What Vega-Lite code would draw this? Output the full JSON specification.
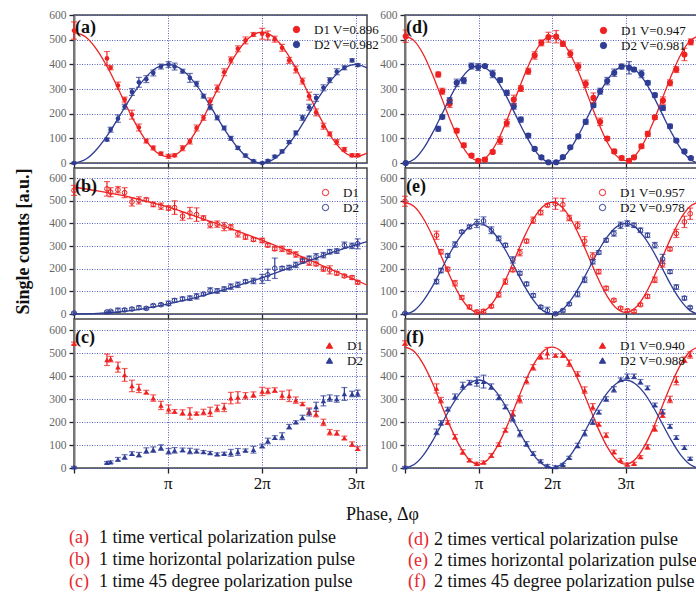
{
"$schema":"https://vega.github.io/schema/vega-lite/v6.json",
"background":"white",
"padding":{"left":13,"top":8,"right":0,"bottom":0},
"config":{
 "font":"Liberation Serif, Times New Roman, DejaVu Serif, serif",
 "view":{"stroke":"#444","strokeWidth":1.5},
 "axis":{"labelFont":"Liberation Serif, Times New Roman, DejaVu Serif, serif","titleFont":"Liberation Serif, Times New Roman, DejaVu Serif, serif","gridColor":"#3848b8","gridDash":[1,1.5],"gridWidth":1,"gridOpacity":0.85,"tickColor":"#222","tickWidth":1.3},
 "axisX":{"domain":false,"tickSize":5},
 "axisY":{"domainColor":"#777","domainWidth":2,"tickSize":5,"labelFontSize":11.5,"labelColor":"#666","labelPadding":3},
 "legend":{"orient":"none","labelFont":"Liberation Serif, Times New Roman, DejaVu Serif, serif","labelFontSize":13,"labelColor":"#111","labelOffset":11,"rowPadding":1,"padding":0,"symbolSize":40,"symbolStrokeWidth":1},
 "title":{"anchor":"start","orient":"top","frame":"group","offset":-28,"dx":1,"fontSize":18,"font":"Liberation Serif, Times New Roman, DejaVu Serif, serif","fontWeight":"bold","color":"#111"}
},
"datasets":{
"pts":[
{"p":"a","s":"D1","x":0,"y":537,"e":35},{"p":"a","s":"D1","x":0.351,"y":424,"e":28},{"p":"a","s":"D1","x":0.39,"y":386,"e":8},{"p":"a","s":"D1","x":0.468,"y":314,"e":14},{"p":"a","s":"D1","x":0.539,"y":257,"e":10},{"p":"a","s":"D1","x":0.617,"y":196,"e":18},{"p":"a","s":"D1","x":0.691,"y":144,"e":14},{"p":"a","s":"D1","x":0.77,"y":89,"e":8},{"p":"a","s":"D1","x":0.844,"y":61,"e":8},{"p":"a","s":"D1","x":0.926,"y":38,"e":6},{"p":"a","s":"D1","x":1.007,"y":27,"e":8},{"p":"a","s":"D1","x":1.071,"y":31,"e":6},{"p":"a","s":"D1","x":1.156,"y":60,"e":10},{"p":"a","s":"D1","x":1.234,"y":87,"e":10},{"p":"a","s":"D1","x":1.305,"y":142,"e":12},{"p":"a","s":"D1","x":1.379,"y":183,"e":10},{"p":"a","s":"D1","x":1.45,"y":250,"e":14},{"p":"a","s":"D1","x":1.525,"y":302,"e":14},{"p":"a","s":"D1","x":1.599,"y":368,"e":14},{"p":"a","s":"D1","x":1.67,"y":418,"e":12},{"p":"a","s":"D1","x":1.745,"y":463,"e":12},{"p":"a","s":"D1","x":1.826,"y":497,"e":14},{"p":"a","s":"D1","x":1.911,"y":521,"e":8},{"p":"a","s":"D1","x":2.004,"y":524,"e":22},{"p":"a","s":"D1","x":2.064,"y":517,"e":18},{"p":"a","s":"D1","x":2.138,"y":502,"e":12},{"p":"a","s":"D1","x":2.216,"y":467,"e":14},{"p":"a","s":"D1","x":2.291,"y":416,"e":12},{"p":"a","s":"D1","x":2.362,"y":379,"e":14},{"p":"a","s":"D1","x":2.433,"y":332,"e":12},{"p":"a","s":"D1","x":2.504,"y":271,"e":16},{"p":"a","s":"D1","x":2.578,"y":205,"e":14},{"p":"a","s":"D1","x":2.656,"y":149,"e":12},{"p":"a","s":"D1","x":2.723,"y":118,"e":8},{"p":"a","s":"D1","x":2.798,"y":85,"e":10},{"p":"a","s":"D1","x":2.879,"y":55,"e":8},{"p":"a","s":"D1","x":2.961,"y":31,"e":6},{"p":"a","s":"D1","x":3.021,"y":31,"e":6},
{"p":"a","s":"D2","x":0,"y":0,"e":3},{"p":"a","s":"D2","x":0.351,"y":95,"e":6},{"p":"a","s":"D2","x":0.39,"y":135,"e":10},{"p":"a","s":"D2","x":0.468,"y":180,"e":15},{"p":"a","s":"D2","x":0.539,"y":228,"e":10},{"p":"a","s":"D2","x":0.617,"y":288,"e":14},{"p":"a","s":"D2","x":0.691,"y":327,"e":20},{"p":"a","s":"D2","x":0.77,"y":340,"e":14},{"p":"a","s":"D2","x":0.844,"y":365,"e":12},{"p":"a","s":"D2","x":0.926,"y":391,"e":10},{"p":"a","s":"D2","x":1.007,"y":399,"e":12},{"p":"a","s":"D2","x":1.071,"y":391,"e":14},{"p":"a","s":"D2","x":1.156,"y":372,"e":8},{"p":"a","s":"D2","x":1.234,"y":345,"e":18},{"p":"a","s":"D2","x":1.305,"y":321,"e":10},{"p":"a","s":"D2","x":1.379,"y":271,"e":8},{"p":"a","s":"D2","x":1.45,"y":226,"e":10},{"p":"a","s":"D2","x":1.525,"y":183,"e":8},{"p":"a","s":"D2","x":1.599,"y":142,"e":8},{"p":"a","s":"D2","x":1.67,"y":100,"e":8},{"p":"a","s":"D2","x":1.745,"y":61,"e":6},{"p":"a","s":"D2","x":1.826,"y":30,"e":6},{"p":"a","s":"D2","x":1.911,"y":8,"e":4},{"p":"a","s":"D2","x":2.004,"y":0,"e":3},{"p":"a","s":"D2","x":2.064,"y":9,"e":4},{"p":"a","s":"D2","x":2.138,"y":26,"e":5},{"p":"a","s":"D2","x":2.216,"y":47,"e":6},{"p":"a","s":"D2","x":2.291,"y":85,"e":6},{"p":"a","s":"D2","x":2.362,"y":122,"e":8},{"p":"a","s":"D2","x":2.433,"y":183,"e":10},{"p":"a","s":"D2","x":2.504,"y":226,"e":12},{"p":"a","s":"D2","x":2.578,"y":264,"e":14},{"p":"a","s":"D2","x":2.656,"y":305,"e":12},{"p":"a","s":"D2","x":2.723,"y":336,"e":10},{"p":"a","s":"D2","x":2.798,"y":370,"e":12},{"p":"a","s":"D2","x":2.879,"y":386,"e":8},{"p":"a","s":"D2","x":2.961,"y":416,"e":6},{"p":"a","s":"D2","x":3.021,"y":397,"e":6},
{"p":"b","s":"D1","x":0,"y":546,"e":22},{"p":"b","s":"D1","x":0.351,"y":553,"e":32},{"p":"b","s":"D1","x":0.39,"y":538,"e":20},{"p":"b","s":"D1","x":0.468,"y":549,"e":14},{"p":"b","s":"D1","x":0.539,"y":536,"e":22},{"p":"b","s":"D1","x":0.617,"y":495,"e":18},{"p":"b","s":"D1","x":0.691,"y":502,"e":16},{"p":"b","s":"D1","x":0.77,"y":505,"e":8},{"p":"b","s":"D1","x":0.844,"y":484,"e":10},{"p":"b","s":"D1","x":0.926,"y":476,"e":14},{"p":"b","s":"D1","x":1.007,"y":468,"e":10},{"p":"b","s":"D1","x":1.071,"y":470,"e":30},{"p":"b","s":"D1","x":1.156,"y":432,"e":18},{"p":"b","s":"D1","x":1.234,"y":446,"e":25},{"p":"b","s":"D1","x":1.305,"y":439,"e":30},{"p":"b","s":"D1","x":1.379,"y":424,"e":10},{"p":"b","s":"D1","x":1.45,"y":395,"e":14},{"p":"b","s":"D1","x":1.525,"y":397,"e":14},{"p":"b","s":"D1","x":1.599,"y":386,"e":18},{"p":"b","s":"D1","x":1.67,"y":383,"e":12},{"p":"b","s":"D1","x":1.745,"y":354,"e":14},{"p":"b","s":"D1","x":1.826,"y":340,"e":10},{"p":"b","s":"D1","x":1.911,"y":329,"e":8},{"p":"b","s":"D1","x":2.004,"y":325,"e":10},{"p":"b","s":"D1","x":2.064,"y":304,"e":8},{"p":"b","s":"D1","x":2.138,"y":288,"e":8},{"p":"b","s":"D1","x":2.216,"y":288,"e":12},{"p":"b","s":"D1","x":2.291,"y":275,"e":10},{"p":"b","s":"D1","x":2.362,"y":263,"e":12},{"p":"b","s":"D1","x":2.433,"y":241,"e":10},{"p":"b","s":"D1","x":2.504,"y":227,"e":12},{"p":"b","s":"D1","x":2.578,"y":221,"e":8},{"p":"b","s":"D1","x":2.656,"y":199,"e":10},{"p":"b","s":"D1","x":2.723,"y":195,"e":18},{"p":"b","s":"D1","x":2.798,"y":180,"e":8},{"p":"b","s":"D1","x":2.879,"y":168,"e":6},{"p":"b","s":"D1","x":2.961,"y":161,"e":8},{"p":"b","s":"D1","x":3.021,"y":140,"e":8},
{"p":"b","s":"D2","x":0,"y":4,"e":4},{"p":"b","s":"D2","x":0.351,"y":9,"e":4},{"p":"b","s":"D2","x":0.39,"y":12,"e":4},{"p":"b","s":"D2","x":0.468,"y":16,"e":10},{"p":"b","s":"D2","x":0.539,"y":18,"e":6},{"p":"b","s":"D2","x":0.617,"y":22,"e":6},{"p":"b","s":"D2","x":0.691,"y":28,"e":8},{"p":"b","s":"D2","x":0.77,"y":25,"e":6},{"p":"b","s":"D2","x":0.844,"y":37,"e":6},{"p":"b","s":"D2","x":0.926,"y":41,"e":6},{"p":"b","s":"D2","x":1.007,"y":47,"e":10},{"p":"b","s":"D2","x":1.071,"y":60,"e":8},{"p":"b","s":"D2","x":1.156,"y":67,"e":8},{"p":"b","s":"D2","x":1.234,"y":70,"e":10},{"p":"b","s":"D2","x":1.305,"y":78,"e":12},{"p":"b","s":"D2","x":1.379,"y":88,"e":6},{"p":"b","s":"D2","x":1.45,"y":104,"e":12},{"p":"b","s":"D2","x":1.525,"y":102,"e":10},{"p":"b","s":"D2","x":1.599,"y":110,"e":10},{"p":"b","s":"D2","x":1.67,"y":121,"e":12},{"p":"b","s":"D2","x":1.745,"y":129,"e":12},{"p":"b","s":"D2","x":1.826,"y":143,"e":8},{"p":"b","s":"D2","x":1.911,"y":146,"e":12},{"p":"b","s":"D2","x":2.004,"y":155,"e":20},{"p":"b","s":"D2","x":2.064,"y":173,"e":25},{"p":"b","s":"D2","x":2.138,"y":202,"e":45},{"p":"b","s":"D2","x":2.216,"y":202,"e":8},{"p":"b","s":"D2","x":2.291,"y":205,"e":10},{"p":"b","s":"D2","x":2.362,"y":217,"e":12},{"p":"b","s":"D2","x":2.433,"y":234,"e":10},{"p":"b","s":"D2","x":2.504,"y":246,"e":10},{"p":"b","s":"D2","x":2.578,"y":253,"e":14},{"p":"b","s":"D2","x":2.656,"y":260,"e":12},{"p":"b","s":"D2","x":2.723,"y":275,"e":10},{"p":"b","s":"D2","x":2.798,"y":278,"e":10},{"p":"b","s":"D2","x":2.879,"y":304,"e":14},{"p":"b","s":"D2","x":2.961,"y":301,"e":12},{"p":"b","s":"D2","x":3.021,"y":310,"e":22},
{"p":"c","s":"D1","x":0,"y":543,"e":6},{"p":"c","s":"D1","x":0.351,"y":472,"e":25},{"p":"c","s":"D1","x":0.39,"y":475,"e":12},{"p":"c","s":"D1","x":0.468,"y":440,"e":22},{"p":"c","s":"D1","x":0.539,"y":406,"e":28},{"p":"c","s":"D1","x":0.617,"y":358,"e":25},{"p":"c","s":"D1","x":0.691,"y":347,"e":18},{"p":"c","s":"D1","x":0.77,"y":331,"e":8},{"p":"c","s":"D1","x":0.844,"y":305,"e":14},{"p":"c","s":"D1","x":0.926,"y":273,"e":18},{"p":"c","s":"D1","x":1.007,"y":257,"e":18},{"p":"c","s":"D1","x":1.071,"y":247,"e":8},{"p":"c","s":"D1","x":1.156,"y":242,"e":12},{"p":"c","s":"D1","x":1.234,"y":238,"e":25},{"p":"c","s":"D1","x":1.305,"y":238,"e":6},{"p":"c","s":"D1","x":1.379,"y":244,"e":12},{"p":"c","s":"D1","x":1.45,"y":245,"e":20},{"p":"c","s":"D1","x":1.525,"y":260,"e":14},{"p":"c","s":"D1","x":1.599,"y":264,"e":18},{"p":"c","s":"D1","x":1.67,"y":305,"e":25},{"p":"c","s":"D1","x":1.745,"y":308,"e":25},{"p":"c","s":"D1","x":1.826,"y":315,"e":14},{"p":"c","s":"D1","x":1.911,"y":320,"e":12},{"p":"c","s":"D1","x":2.004,"y":334,"e":18},{"p":"c","s":"D1","x":2.064,"y":336,"e":12},{"p":"c","s":"D1","x":2.138,"y":340,"e":10},{"p":"c","s":"D1","x":2.216,"y":317,"e":18},{"p":"c","s":"D1","x":2.291,"y":315,"e":25},{"p":"c","s":"D1","x":2.362,"y":296,"e":14},{"p":"c","s":"D1","x":2.433,"y":280,"e":6},{"p":"c","s":"D1","x":2.504,"y":248,"e":14},{"p":"c","s":"D1","x":2.578,"y":235,"e":12},{"p":"c","s":"D1","x":2.656,"y":199,"e":14},{"p":"c","s":"D1","x":2.723,"y":156,"e":12},{"p":"c","s":"D1","x":2.798,"y":153,"e":10},{"p":"c","s":"D1","x":2.879,"y":131,"e":8},{"p":"c","s":"D1","x":2.961,"y":104,"e":10},{"p":"c","s":"D1","x":3.021,"y":85,"e":8},
{"p":"c","s":"D2","x":0,"y":4,"e":3},{"p":"c","s":"D2","x":0.351,"y":23,"e":5},{"p":"c","s":"D2","x":0.39,"y":26,"e":5},{"p":"c","s":"D2","x":0.468,"y":38,"e":8},{"p":"c","s":"D2","x":0.539,"y":48,"e":10},{"p":"c","s":"D2","x":0.617,"y":63,"e":8},{"p":"c","s":"D2","x":0.691,"y":58,"e":10},{"p":"c","s":"D2","x":0.77,"y":76,"e":12},{"p":"c","s":"D2","x":0.844,"y":80,"e":12},{"p":"c","s":"D2","x":0.926,"y":89,"e":12},{"p":"c","s":"D2","x":1.007,"y":73,"e":12},{"p":"c","s":"D2","x":1.071,"y":77,"e":12},{"p":"c","s":"D2","x":1.156,"y":79,"e":8},{"p":"c","s":"D2","x":1.234,"y":74,"e":12},{"p":"c","s":"D2","x":1.305,"y":74,"e":8},{"p":"c","s":"D2","x":1.379,"y":70,"e":6},{"p":"c","s":"D2","x":1.45,"y":66,"e":6},{"p":"c","s":"D2","x":1.525,"y":60,"e":6},{"p":"c","s":"D2","x":1.599,"y":63,"e":6},{"p":"c","s":"D2","x":1.67,"y":66,"e":15},{"p":"c","s":"D2","x":1.745,"y":70,"e":15},{"p":"c","s":"D2","x":1.826,"y":77,"e":6},{"p":"c","s":"D2","x":1.911,"y":80,"e":15},{"p":"c","s":"D2","x":2.004,"y":96,"e":8},{"p":"c","s":"D2","x":2.064,"y":118,"e":12},{"p":"c","s":"D2","x":2.138,"y":133,"e":8},{"p":"c","s":"D2","x":2.216,"y":139,"e":15},{"p":"c","s":"D2","x":2.291,"y":180,"e":10},{"p":"c","s":"D2","x":2.362,"y":200,"e":6},{"p":"c","s":"D2","x":2.433,"y":220,"e":10},{"p":"c","s":"D2","x":2.504,"y":242,"e":15},{"p":"c","s":"D2","x":2.578,"y":267,"e":20},{"p":"c","s":"D2","x":2.656,"y":293,"e":22},{"p":"c","s":"D2","x":2.723,"y":305,"e":14},{"p":"c","s":"D2","x":2.798,"y":301,"e":14},{"p":"c","s":"D2","x":2.879,"y":323,"e":28},{"p":"c","s":"D2","x":2.961,"y":323,"e":12},{"p":"c","s":"D2","x":3.021,"y":326,"e":14},
{"p":"d","s":"D1","x":0.01,"y":514,"e":25},{"p":"d","s":"D1","x":0.452,"y":359,"e":10},{"p":"d","s":"D1","x":0.507,"y":291,"e":12},{"p":"d","s":"D1","x":0.607,"y":240,"e":15},{"p":"d","s":"D1","x":0.703,"y":131,"e":8},{"p":"d","s":"D1","x":0.799,"y":72,"e":8},{"p":"d","s":"D1","x":0.904,"y":30,"e":8},{"p":"d","s":"D1","x":0.995,"y":9,"e":6},{"p":"d","s":"D1","x":1.087,"y":14,"e":8},{"p":"d","s":"D1","x":1.192,"y":45,"e":6},{"p":"d","s":"D1","x":1.292,"y":91,"e":15},{"p":"d","s":"D1","x":1.384,"y":162,"e":15},{"p":"d","s":"D1","x":1.479,"y":257,"e":18},{"p":"d","s":"D1","x":1.575,"y":302,"e":12},{"p":"d","s":"D1","x":1.676,"y":372,"e":12},{"p":"d","s":"D1","x":1.763,"y":436,"e":15},{"p":"d","s":"D1","x":1.854,"y":487,"e":12},{"p":"d","s":"D1","x":1.95,"y":510,"e":20},{"p":"d","s":"D1","x":2.055,"y":512,"e":25},{"p":"d","s":"D1","x":2.146,"y":483,"e":10},{"p":"d","s":"D1","x":2.247,"y":443,"e":15},{"p":"d","s":"D1","x":2.356,"y":391,"e":15},{"p":"d","s":"D1","x":2.457,"y":321,"e":15},{"p":"d","s":"D1","x":2.562,"y":264,"e":20},{"p":"d","s":"D1","x":2.653,"y":167,"e":15},{"p":"d","s":"D1","x":2.749,"y":99,"e":8},{"p":"d","s":"D1","x":2.845,"y":47,"e":8},{"p":"d","s":"D1","x":2.945,"y":20,"e":8},{"p":"d","s":"D1","x":3.046,"y":9,"e":6},{"p":"d","s":"D1","x":3.114,"y":23,"e":6},{"p":"d","s":"D1","x":3.215,"y":68,"e":8},{"p":"d","s":"D1","x":3.301,"y":118,"e":10},{"p":"d","s":"D1","x":3.397,"y":185,"e":8},{"p":"d","s":"D1","x":3.507,"y":253,"e":15},{"p":"d","s":"D1","x":3.603,"y":325,"e":12},{"p":"d","s":"D1","x":3.689,"y":379,"e":12},{"p":"d","s":"D1","x":3.799,"y":440,"e":25},{"p":"d","s":"D1","x":3.886,"y":491,"e":12},
{"p":"d","s":"D2","x":0.01,"y":0,"e":3},{"p":"d","s":"D2","x":0.452,"y":139,"e":10},{"p":"d","s":"D2","x":0.507,"y":187,"e":8},{"p":"d","s":"D2","x":0.607,"y":253,"e":12},{"p":"d","s":"D2","x":0.703,"y":325,"e":15},{"p":"d","s":"D2","x":0.799,"y":334,"e":12},{"p":"d","s":"D2","x":0.904,"y":393,"e":12},{"p":"d","s":"D2","x":0.995,"y":389,"e":14},{"p":"d","s":"D2","x":1.087,"y":393,"e":6},{"p":"d","s":"D2","x":1.192,"y":361,"e":15},{"p":"d","s":"D2","x":1.292,"y":336,"e":8},{"p":"d","s":"D2","x":1.384,"y":284,"e":10},{"p":"d","s":"D2","x":1.479,"y":230,"e":12},{"p":"d","s":"D2","x":1.575,"y":176,"e":10},{"p":"d","s":"D2","x":1.676,"y":111,"e":8},{"p":"d","s":"D2","x":1.763,"y":57,"e":6},{"p":"d","s":"D2","x":1.854,"y":23,"e":6},{"p":"d","s":"D2","x":1.95,"y":3,"e":4},{"p":"d","s":"D2","x":2.055,"y":3,"e":4},{"p":"d","s":"D2","x":2.146,"y":24,"e":5},{"p":"d","s":"D2","x":2.247,"y":64,"e":6},{"p":"d","s":"D2","x":2.356,"y":108,"e":8},{"p":"d","s":"D2","x":2.457,"y":167,"e":10},{"p":"d","s":"D2","x":2.562,"y":234,"e":8},{"p":"d","s":"D2","x":2.653,"y":291,"e":12},{"p":"d","s":"D2","x":2.749,"y":332,"e":15},{"p":"d","s":"D2","x":2.845,"y":366,"e":15},{"p":"d","s":"D2","x":2.945,"y":391,"e":10},{"p":"d","s":"D2","x":3.046,"y":386,"e":25},{"p":"d","s":"D2","x":3.114,"y":379,"e":8},{"p":"d","s":"D2","x":3.215,"y":361,"e":15},{"p":"d","s":"D2","x":3.301,"y":325,"e":8},{"p":"d","s":"D2","x":3.397,"y":275,"e":8},{"p":"d","s":"D2","x":3.507,"y":223,"e":10},{"p":"d","s":"D2","x":3.603,"y":149,"e":8},{"p":"d","s":"D2","x":3.689,"y":91,"e":6},{"p":"d","s":"D2","x":3.799,"y":47,"e":6},{"p":"d","s":"D2","x":3.886,"y":20,"e":5},
{"p":"e","s":"D1","x":0,"y":498,"e":22},{"p":"e","s":"D1","x":0.429,"y":348,"e":18},{"p":"e","s":"D1","x":0.489,"y":275,"e":10},{"p":"e","s":"D1","x":0.58,"y":198,"e":8},{"p":"e","s":"D1","x":0.68,"y":136,"e":12},{"p":"e","s":"D1","x":0.772,"y":73,"e":8},{"p":"e","s":"D1","x":0.877,"y":31,"e":8},{"p":"e","s":"D1","x":0.977,"y":9,"e":8},{"p":"e","s":"D1","x":1.068,"y":12,"e":8},{"p":"e","s":"D1","x":1.174,"y":34,"e":6},{"p":"e","s":"D1","x":1.274,"y":85,"e":10},{"p":"e","s":"D1","x":1.365,"y":143,"e":12},{"p":"e","s":"D1","x":1.466,"y":195,"e":8},{"p":"e","s":"D1","x":1.562,"y":271,"e":14},{"p":"e","s":"D1","x":1.653,"y":322,"e":8},{"p":"e","s":"D1","x":1.744,"y":414,"e":14},{"p":"e","s":"D1","x":1.845,"y":448,"e":10},{"p":"e","s":"D1","x":1.936,"y":480,"e":6},{"p":"e","s":"D1","x":2.046,"y":487,"e":25},{"p":"e","s":"D1","x":2.146,"y":483,"e":28},{"p":"e","s":"D1","x":2.233,"y":424,"e":12},{"p":"e","s":"D1","x":2.347,"y":392,"e":15},{"p":"e","s":"D1","x":2.443,"y":322,"e":20},{"p":"e","s":"D1","x":2.553,"y":256,"e":15},{"p":"e","s":"D1","x":2.635,"y":187,"e":10},{"p":"e","s":"D1","x":2.735,"y":114,"e":8},{"p":"e","s":"D1","x":2.84,"y":61,"e":6},{"p":"e","s":"D1","x":2.932,"y":26,"e":6},{"p":"e","s":"D1","x":3.023,"y":15,"e":6},{"p":"e","s":"D1","x":3.114,"y":12,"e":6},{"p":"e","s":"D1","x":3.201,"y":41,"e":6},{"p":"e","s":"D1","x":3.297,"y":78,"e":8},{"p":"e","s":"D1","x":3.397,"y":151,"e":12},{"p":"e","s":"D1","x":3.502,"y":221,"e":14},{"p":"e","s":"D1","x":3.603,"y":287,"e":8},{"p":"e","s":"D1","x":3.689,"y":356,"e":18},{"p":"e","s":"D1","x":3.799,"y":407,"e":25},{"p":"e","s":"D1","x":3.877,"y":443,"e":25},
{"p":"e","s":"D2","x":0,"y":3,"e":3},{"p":"e","s":"D2","x":0.429,"y":143,"e":10},{"p":"e","s":"D2","x":0.489,"y":192,"e":10},{"p":"e","s":"D2","x":0.58,"y":258,"e":8},{"p":"e","s":"D2","x":0.68,"y":307,"e":12},{"p":"e","s":"D2","x":0.772,"y":363,"e":6},{"p":"e","s":"D2","x":0.877,"y":385,"e":8},{"p":"e","s":"D2","x":0.977,"y":400,"e":18},{"p":"e","s":"D2","x":1.068,"y":411,"e":18},{"p":"e","s":"D2","x":1.174,"y":370,"e":15},{"p":"e","s":"D2","x":1.274,"y":334,"e":10},{"p":"e","s":"D2","x":1.365,"y":304,"e":8},{"p":"e","s":"D2","x":1.466,"y":239,"e":14},{"p":"e","s":"D2","x":1.562,"y":180,"e":8},{"p":"e","s":"D2","x":1.653,"y":133,"e":8},{"p":"e","s":"D2","x":1.744,"y":82,"e":8},{"p":"e","s":"D2","x":1.845,"y":31,"e":6},{"p":"e","s":"D2","x":1.936,"y":15,"e":15},{"p":"e","s":"D2","x":2.046,"y":1,"e":6},{"p":"e","s":"D2","x":2.146,"y":15,"e":6},{"p":"e","s":"D2","x":2.233,"y":44,"e":6},{"p":"e","s":"D2","x":2.347,"y":88,"e":12},{"p":"e","s":"D2","x":2.443,"y":151,"e":12},{"p":"e","s":"D2","x":2.553,"y":231,"e":10},{"p":"e","s":"D2","x":2.635,"y":272,"e":8},{"p":"e","s":"D2","x":2.735,"y":326,"e":8},{"p":"e","s":"D2","x":2.84,"y":356,"e":12},{"p":"e","s":"D2","x":2.932,"y":392,"e":14},{"p":"e","s":"D2","x":3.023,"y":400,"e":12},{"p":"e","s":"D2","x":3.114,"y":392,"e":10},{"p":"e","s":"D2","x":3.201,"y":370,"e":10},{"p":"e","s":"D2","x":3.297,"y":348,"e":10},{"p":"e","s":"D2","x":3.397,"y":304,"e":12},{"p":"e","s":"D2","x":3.502,"y":243,"e":20},{"p":"e","s":"D2","x":3.603,"y":187,"e":8},{"p":"e","s":"D2","x":3.689,"y":119,"e":10},{"p":"e","s":"D2","x":3.799,"y":70,"e":8},{"p":"e","s":"D2","x":3.877,"y":29,"e":5},
{"p":"f","s":"D1","x":0,"y":545,"e":10},{"p":"f","s":"D1","x":0.429,"y":347,"e":20},{"p":"f","s":"D1","x":0.489,"y":296,"e":12},{"p":"f","s":"D1","x":0.58,"y":199,"e":8},{"p":"f","s":"D1","x":0.68,"y":136,"e":10},{"p":"f","s":"D1","x":0.785,"y":70,"e":10},{"p":"f","s":"D1","x":0.877,"y":34,"e":6},{"p":"f","s":"D1","x":0.977,"y":19,"e":6},{"p":"f","s":"D1","x":1.068,"y":25,"e":6},{"p":"f","s":"D1","x":1.174,"y":55,"e":8},{"p":"f","s":"D1","x":1.274,"y":102,"e":8},{"p":"f","s":"D1","x":1.365,"y":165,"e":8},{"p":"f","s":"D1","x":1.466,"y":238,"e":12},{"p":"f","s":"D1","x":1.562,"y":299,"e":15},{"p":"f","s":"D1","x":1.653,"y":381,"e":14},{"p":"f","s":"D1","x":1.744,"y":439,"e":12},{"p":"f","s":"D1","x":1.845,"y":486,"e":12},{"p":"f","s":"D1","x":1.936,"y":501,"e":25},{"p":"f","s":"D1","x":2.046,"y":491,"e":6},{"p":"f","s":"D1","x":2.146,"y":491,"e":8},{"p":"f","s":"D1","x":2.233,"y":457,"e":14},{"p":"f","s":"D1","x":2.347,"y":410,"e":10},{"p":"f","s":"D1","x":2.443,"y":340,"e":14},{"p":"f","s":"D1","x":2.553,"y":267,"e":14},{"p":"f","s":"D1","x":2.635,"y":191,"e":8},{"p":"f","s":"D1","x":2.735,"y":143,"e":10},{"p":"f","s":"D1","x":2.84,"y":70,"e":8},{"p":"f","s":"D1","x":2.932,"y":34,"e":8},{"p":"f","s":"D1","x":3.023,"y":16,"e":6},{"p":"f","s":"D1","x":3.114,"y":19,"e":6},{"p":"f","s":"D1","x":3.201,"y":48,"e":6},{"p":"f","s":"D1","x":3.297,"y":92,"e":10},{"p":"f","s":"D1","x":3.397,"y":172,"e":12},{"p":"f","s":"D1","x":3.502,"y":231,"e":10},{"p":"f","s":"D1","x":3.603,"y":299,"e":14},{"p":"f","s":"D1","x":3.689,"y":381,"e":18},{"p":"f","s":"D1","x":3.799,"y":472,"e":12},{"p":"f","s":"D1","x":3.877,"y":493,"e":14},
{"p":"f","s":"D2","x":0,"y":4,"e":3},{"p":"f","s":"D2","x":0.429,"y":158,"e":12},{"p":"f","s":"D2","x":0.489,"y":197,"e":10},{"p":"f","s":"D2","x":0.58,"y":257,"e":8},{"p":"f","s":"D2","x":0.68,"y":311,"e":12},{"p":"f","s":"D2","x":0.785,"y":359,"e":15},{"p":"f","s":"D2","x":0.877,"y":372,"e":10},{"p":"f","s":"D2","x":0.977,"y":377,"e":20},{"p":"f","s":"D2","x":1.068,"y":377,"e":28},{"p":"f","s":"D2","x":1.174,"y":355,"e":12},{"p":"f","s":"D2","x":1.274,"y":308,"e":10},{"p":"f","s":"D2","x":1.365,"y":267,"e":8},{"p":"f","s":"D2","x":1.466,"y":216,"e":12},{"p":"f","s":"D2","x":1.562,"y":150,"e":14},{"p":"f","s":"D2","x":1.653,"y":105,"e":10},{"p":"f","s":"D2","x":1.744,"y":63,"e":8},{"p":"f","s":"D2","x":1.845,"y":30,"e":6},{"p":"f","s":"D2","x":1.936,"y":10,"e":5},{"p":"f","s":"D2","x":2.046,"y":5,"e":5},{"p":"f","s":"D2","x":2.146,"y":15,"e":5},{"p":"f","s":"D2","x":2.233,"y":45,"e":6},{"p":"f","s":"D2","x":2.347,"y":98,"e":10},{"p":"f","s":"D2","x":2.443,"y":152,"e":12},{"p":"f","s":"D2","x":2.553,"y":200,"e":10},{"p":"f","s":"D2","x":2.635,"y":244,"e":8},{"p":"f","s":"D2","x":2.735,"y":301,"e":10},{"p":"f","s":"D2","x":2.84,"y":343,"e":12},{"p":"f","s":"D2","x":2.932,"y":385,"e":8},{"p":"f","s":"D2","x":3.023,"y":400,"e":10},{"p":"f","s":"D2","x":3.114,"y":400,"e":10},{"p":"f","s":"D2","x":3.201,"y":376,"e":10},{"p":"f","s":"D2","x":3.297,"y":350,"e":8},{"p":"f","s":"D2","x":3.397,"y":275,"e":8},{"p":"f","s":"D2","x":3.502,"y":245,"e":10},{"p":"f","s":"D2","x":3.603,"y":182,"e":8},{"p":"f","s":"D2","x":3.689,"y":133,"e":8},{"p":"f","s":"D2","x":3.799,"y":89,"e":8},{"p":"f","s":"D2","x":3.877,"y":41,"e":6}
],
"fit":[
{"p":"a","x":0,"F1":530,"F2":0},{"p":"a","x":0.125,"F1":511,"F2":15},{"p":"a","x":0.25,"F1":456,"F2":59},{"p":"a","x":0.375,"F1":375,"F2":123},{"p":"a","x":0.5,"F1":278,"F2":200},{"p":"a","x":0.625,"F1":181,"F2":277},{"p":"a","x":0.75,"F1":100,"F2":341},{"p":"a","x":0.875,"F1":45,"F2":385},{"p":"a","x":1,"F1":26,"F2":400},{"p":"a","x":1.125,"F1":45,"F2":385},{"p":"a","x":1.25,"F1":100,"F2":341},{"p":"a","x":1.375,"F1":181,"F2":277},{"p":"a","x":1.5,"F1":278,"F2":200},{"p":"a","x":1.625,"F1":375,"F2":123},{"p":"a","x":1.75,"F1":456,"F2":59},{"p":"a","x":1.875,"F1":511,"F2":15},{"p":"a","x":2,"F1":530,"F2":0},{"p":"a","x":2.125,"F1":511,"F2":15},{"p":"a","x":2.25,"F1":456,"F2":59},{"p":"a","x":2.375,"F1":375,"F2":123},{"p":"a","x":2.5,"F1":278,"F2":200},{"p":"a","x":2.625,"F1":181,"F2":277},{"p":"a","x":2.75,"F1":100,"F2":341},{"p":"a","x":2.875,"F1":45,"F2":385},{"p":"a","x":3,"F1":26,"F2":400},{"p":"a","x":3.12,"F1":40,"F2":386},
{"p":"b","x":0,"F1":560,"F2":0},{"p":"b","x":0.25,"F1":544,"F2":3},{"p":"b","x":0.5,"F1":525,"F2":10},{"p":"b","x":0.75,"F1":500,"F2":24},{"p":"b","x":1,"F1":473,"F2":45},{"p":"b","x":1.25,"F1":438,"F2":68},{"p":"b","x":1.5,"F1":402,"F2":95},{"p":"b","x":1.75,"F1":365,"F2":126},{"p":"b","x":2,"F1":326,"F2":160},{"p":"b","x":2.25,"F1":284,"F2":197},{"p":"b","x":2.5,"F1":240,"F2":235},{"p":"b","x":2.75,"F1":195,"F2":272},{"p":"b","x":3,"F1":150,"F2":305},{"p":"b","x":3.12,"F1":128,"F2":320},
{"p":"d","x":0,"F1":514,"F2":0},{"p":"d","x":0.125,"F1":495,"F2":15},{"p":"d","x":0.25,"F1":440,"F2":58},{"p":"d","x":0.375,"F1":358,"F2":122},{"p":"d","x":0.5,"F1":262,"F2":197},{"p":"d","x":0.625,"F1":166,"F2":272},{"p":"d","x":0.75,"F1":84,"F2":336},{"p":"d","x":0.875,"F1":29,"F2":379},{"p":"d","x":1,"F1":10,"F2":394},{"p":"d","x":1.125,"F1":29,"F2":379},{"p":"d","x":1.25,"F1":84,"F2":336},{"p":"d","x":1.375,"F1":166,"F2":272},{"p":"d","x":1.5,"F1":262,"F2":197},{"p":"d","x":1.625,"F1":358,"F2":122},{"p":"d","x":1.75,"F1":440,"F2":58},{"p":"d","x":1.875,"F1":495,"F2":15},{"p":"d","x":2,"F1":514,"F2":0},{"p":"d","x":2.125,"F1":495,"F2":15},{"p":"d","x":2.25,"F1":440,"F2":58},{"p":"d","x":2.375,"F1":358,"F2":122},{"p":"d","x":2.5,"F1":262,"F2":197},{"p":"d","x":2.625,"F1":166,"F2":272},{"p":"d","x":2.75,"F1":84,"F2":336},{"p":"d","x":2.875,"F1":29,"F2":379},{"p":"d","x":3,"F1":10,"F2":394},{"p":"d","x":3.125,"F1":29,"F2":379},{"p":"d","x":3.25,"F1":84,"F2":336},{"p":"d","x":3.375,"F1":166,"F2":272},{"p":"d","x":3.5,"F1":262,"F2":197},{"p":"d","x":3.625,"F1":358,"F2":122},{"p":"d","x":3.75,"F1":440,"F2":58},{"p":"d","x":3.875,"F1":495,"F2":15},{"p":"d","x":3.97,"F1":513,"F2":1},
{"p":"e","x":0,"F1":493,"F2":0},{"p":"e","x":0.125,"F1":475,"F2":15},{"p":"e","x":0.25,"F1":422,"F2":59},{"p":"e","x":0.375,"F1":343,"F2":123},{"p":"e","x":0.5,"F1":250,"F2":200},{"p":"e","x":0.625,"F1":157,"F2":277},{"p":"e","x":0.75,"F1":78,"F2":341},{"p":"e","x":0.875,"F1":25,"F2":385},{"p":"e","x":1,"F1":7,"F2":400},{"p":"e","x":1.125,"F1":25,"F2":385},{"p":"e","x":1.25,"F1":78,"F2":341},{"p":"e","x":1.375,"F1":157,"F2":277},{"p":"e","x":1.5,"F1":250,"F2":200},{"p":"e","x":1.625,"F1":343,"F2":123},{"p":"e","x":1.75,"F1":422,"F2":59},{"p":"e","x":1.875,"F1":475,"F2":15},{"p":"e","x":2,"F1":493,"F2":0},{"p":"e","x":2.125,"F1":475,"F2":15},{"p":"e","x":2.25,"F1":422,"F2":59},{"p":"e","x":2.375,"F1":343,"F2":123},{"p":"e","x":2.5,"F1":250,"F2":200},{"p":"e","x":2.625,"F1":157,"F2":277},{"p":"e","x":2.75,"F1":78,"F2":341},{"p":"e","x":2.875,"F1":25,"F2":385},{"p":"e","x":3,"F1":7,"F2":400},{"p":"e","x":3.125,"F1":25,"F2":385},{"p":"e","x":3.25,"F1":78,"F2":341},{"p":"e","x":3.375,"F1":157,"F2":277},{"p":"e","x":3.5,"F1":250,"F2":200},{"p":"e","x":3.625,"F1":343,"F2":123},{"p":"e","x":3.75,"F1":422,"F2":59},{"p":"e","x":3.875,"F1":475,"F2":15},{"p":"e","x":3.97,"F1":492,"F2":1},
{"p":"f","x":0,"F1":527,"F2":0},{"p":"f","x":0.125,"F1":508,"F2":15},{"p":"f","x":0.25,"F1":452,"F2":56},{"p":"f","x":0.375,"F1":370,"F2":118},{"p":"f","x":0.5,"F1":272,"F2":192},{"p":"f","x":0.625,"F1":174,"F2":266},{"p":"f","x":0.75,"F1":92,"F2":328},{"p":"f","x":0.875,"F1":36,"F2":369},{"p":"f","x":1,"F1":17,"F2":384},{"p":"f","x":1.125,"F1":36,"F2":369},{"p":"f","x":1.25,"F1":92,"F2":328},{"p":"f","x":1.375,"F1":174,"F2":266},{"p":"f","x":1.5,"F1":272,"F2":192},{"p":"f","x":1.625,"F1":370,"F2":118},{"p":"f","x":1.75,"F1":452,"F2":56},{"p":"f","x":1.875,"F1":508,"F2":15},{"p":"f","x":2,"F1":527,"F2":0},{"p":"f","x":2.125,"F1":508,"F2":15},{"p":"f","x":2.25,"F1":452,"F2":56},{"p":"f","x":2.375,"F1":370,"F2":118},{"p":"f","x":2.5,"F1":272,"F2":192},{"p":"f","x":2.625,"F1":174,"F2":266},{"p":"f","x":2.75,"F1":92,"F2":328},{"p":"f","x":2.875,"F1":36,"F2":369},{"p":"f","x":3,"F1":17,"F2":384},{"p":"f","x":3.125,"F1":36,"F2":369},{"p":"f","x":3.25,"F1":92,"F2":328},{"p":"f","x":3.375,"F1":174,"F2":266},{"p":"f","x":3.5,"F1":272,"F2":192},{"p":"f","x":3.625,"F1":370,"F2":118},{"p":"f","x":3.75,"F1":452,"F2":56},{"p":"f","x":3.875,"F1":508,"F2":15},{"p":"f","x":3.97,"F1":526,"F2":1}
],
"cap":[
{"col":0,"c":0,"r":0,"l":"(a)","t":"1 time vertical polarization pulse"},
{"col":0,"c":0,"r":1,"l":"(b)","t":"1 time horizontal polarization pulse"},
{"col":0,"c":0,"r":2,"l":"(c)","t":"1 time 45 degree polarization pulse"},
{"col":1,"c":0,"r":0.1,"l":"(d)","t":"2 times vertical polarization pulse"},
{"col":1,"c":0,"r":1.05,"l":"(e)","t":"2 times horizontal polarization pulse"},
{"col":1,"c":0,"r":2.0,"l":"(f)","t":"2 times 45 degree polarization pulse"}
]
},
"columns":2,
"spacing":{"row":5,"column":38},
"bounds":"flush",
"resolve":{"scale":{"color":"independent","stroke":"independent"},"legend":{"color":"independent","stroke":"independent"}},
"concat":[
{"width":293,"height":148,"title":"(a)",
 "encoding":{"x":{"field":"x","type":"quantitative","scale":{"domain":[0,3.12],"nice":false,"zero":false},"axis":{"values":[0,1,2,3],"labels":false,"title":null}},
  "y":{"field":"y","type":"quantitative","scale":{"domain":[0,600],"nice":false},"axis":{"values":[0,100,200,300,400,500,600],"title":null}}},
 "layer":[
  {"data":{"name":"fit"},"transform":[{"filter":"datum.p=='a'"},{"fold":["F1","F2"],"as":["s","y"]}],"mark":{"type":"line","interpolate":"monotone","strokeWidth":1.3},"encoding":{"stroke":{"field":"s","type":"nominal","scale":{"domain":["F1","F2"],"range":["#ee2222","#2f3d94"]},"legend":null}}},
  {"data":{"name":"pts"},"transform":[{"filter":"datum.p=='a'"}],"mark":{"type":"point","shape":"circle","filled":true,"size":22,"opacity":1},"encoding":{"color":{"field":"s","type":"nominal","scale":{"domain":["D1","D2"],"range":["#ee2222","#2f3d94"]},"legend":{"orient":"none","title":null,"legendX":216,"legendY":8,"labelExpr":"datum.label=='D1'?'D1 V=0.896':'D2 V=0.982'"}}}},
  {"data":{"name":"pts"},"transform":[{"filter":"datum.p=='a'"}],"mark":{"type":"errorbar","thickness":1.2,"ticks":{"size":6}},"encoding":{"yError":{"field":"e"},"color":{"field":"s","type":"nominal","scale":{"domain":["D1","D2"],"range":["#ee2222","#2f3d94"]},"legend":null}}}
 ]},
{"width":292,"height":148,"title":"(d)",
 "encoding":{"x":{"field":"x","type":"quantitative","scale":{"domain":[0,3.97],"nice":false,"zero":false},"axis":{"values":[0,1,2,3],"labels":false,"title":null}},
  "y":{"field":"y","type":"quantitative","scale":{"domain":[0,600],"nice":false},"axis":{"values":[0,100,200,300,400,500,600],"title":null}}},
 "layer":[
  {"data":{"name":"fit"},"transform":[{"filter":"datum.p=='d'"},{"fold":["F1","F2"],"as":["s","y"]}],"mark":{"type":"line","interpolate":"monotone","strokeWidth":1.3},"encoding":{"stroke":{"field":"s","type":"nominal","scale":{"domain":["F1","F2"],"range":["#ee2222","#2f3d94"]},"legend":null}}},
  {"data":{"name":"pts"},"transform":[{"filter":"datum.p=='d'"}],"mark":{"type":"point","shape":"circle","filled":true,"size":38,"opacity":1},"encoding":{"color":{"field":"s","type":"nominal","scale":{"domain":["D1","D2"],"range":["#ee2222","#2f3d94"]},"legend":{"orient":"none","title":null,"legendX":192,"legendY":9,"labelExpr":"datum.label=='D1'?'D1 V=0.947':'D2 V=0.981'"}}}},
  {"data":{"name":"pts"},"transform":[{"filter":"datum.p=='d'"}],"mark":{"type":"errorbar","thickness":1.2,"ticks":{"size":6}},"encoding":{"yError":{"field":"e"},"color":{"field":"s","type":"nominal","scale":{"domain":["D1","D2"],"range":["#ee2222","#2f3d94"]},"legend":null}}}
 ]},
{"width":293,"height":146,"title":"(b)",
 "encoding":{"x":{"field":"x","type":"quantitative","scale":{"domain":[0,3.12],"nice":false,"zero":false},"axis":{"values":[0,1,2,3],"labels":false,"title":null}},
  "y":{"field":"y","type":"quantitative","scale":{"domain":[0,645],"nice":false},"axis":{"values":[0,100,200,300,400,500,600],"title":"Single counts [a.u.]","titleFontSize":18,"titleFontWeight":"bold","titleColor":"#111","titlePadding":16}}},
 "layer":[
  {"data":{"name":"fit"},"transform":[{"filter":"datum.p=='b'"},{"fold":["F1","F2"],"as":["s","y"]}],"mark":{"type":"line","interpolate":"monotone","strokeWidth":1.3},"encoding":{"stroke":{"field":"s","type":"nominal","scale":{"domain":["F1","F2"],"range":["#ee2222","#2f3d94"]},"legend":null}}},
  {"data":{"name":"pts"},"transform":[{"filter":"datum.p=='b' && datum.s=='D1'"}],"mark":{"type":"errorbar","thickness":1.2,"ticks":{"size":6},"color":"#ee2222"},"encoding":{"yError":{"field":"e"}}},
  {"data":{"name":"pts"},"transform":[{"filter":"datum.p=='b' && datum.s=='D2'"}],"mark":{"type":"errorbar","thickness":1.2,"ticks":{"size":6},"color":"#2f3d94"},"encoding":{"yError":{"field":"e"}}},
  {"data":{"name":"pts"},"transform":[{"filter":"datum.p=='b'"}],"mark":{"type":"point","shape":"circle","filled":false,"size":22,"strokeWidth":1,"opacity":1},"encoding":{"color":{"field":"s","type":"nominal","scale":{"domain":["D1","D2"],"range":["#ee2222","#2f3d94"]},"legend":{"orient":"none","title":null,"legendX":245,"legendY":18}}}}
 ]},
{"width":292,"height":146,"title":"(e)",
 "encoding":{"x":{"field":"x","type":"quantitative","scale":{"domain":[0,3.97],"nice":false,"zero":false},"axis":{"values":[0,1,2,3],"labels":false,"title":null}},
  "y":{"field":"y","type":"quantitative","scale":{"domain":[0,645],"nice":false},"axis":{"values":[0,100,200,300,400,500,600],"title":null}}},
 "layer":[
  {"data":{"name":"fit"},"transform":[{"filter":"datum.p=='e'"},{"fold":["F1","F2"],"as":["s","y"]}],"mark":{"type":"line","interpolate":"monotone","strokeWidth":1.3},"encoding":{"stroke":{"field":"s","type":"nominal","scale":{"domain":["F1","F2"],"range":["#ee2222","#2f3d94"]},"legend":null}}},
  {"data":{"name":"pts"},"transform":[{"filter":"datum.p=='e' && datum.s=='D1'"}],"mark":{"type":"errorbar","thickness":1.2,"ticks":{"size":6},"color":"#ee2222"},"encoding":{"yError":{"field":"e"}}},
  {"data":{"name":"pts"},"transform":[{"filter":"datum.p=='e' && datum.s=='D2'"}],"mark":{"type":"errorbar","thickness":1.2,"ticks":{"size":6},"color":"#2f3d94"},"encoding":{"yError":{"field":"e"}}},
  {"data":{"name":"pts"},"transform":[{"filter":"datum.p=='e'"}],"mark":{"type":"point","shape":"circle","filled":false,"size":22,"strokeWidth":1,"opacity":1},"encoding":{"color":{"field":"s","type":"nominal","scale":{"domain":["D1","D2"],"range":["#ee2222","#2f3d94"]},"legend":{"orient":"none","title":null,"legendX":191,"legendY":18,"labelExpr":"datum.label=='D1'?'D1 V=0.957':'D2 V=0.978'"}}}}
 ]},
{"width":293,"height":149,"title":"(c)",
 "encoding":{"x":{"field":"x","type":"quantitative","scale":{"domain":[0,3.12],"nice":false,"zero":false},"axis":{"values":[0,1,2,3],"labelExpr":"datum.value==0?'':datum.value==1?'π':datum.value+'π'","labelFontSize":17,"labelColor":"#111","labelPadding":2,"title":"Phase, Δφ","titleFontSize":18,"titleFontWeight":"normal","titleColor":"#111","titleX":308,"titleY":37}},
  "y":{"field":"y","type":"quantitative","scale":{"domain":[0,650],"nice":false},"axis":{"values":[0,100,200,300,400,500,600],"title":null}}},
 "layer":[
  {"data":{"name":"pts"},"transform":[{"filter":"datum.p=='c'"}],"mark":{"type":"point","shape":"triangle-up","filled":true,"size":30,"opacity":1},"encoding":{"color":{"field":"s","type":"nominal","scale":{"domain":["D1","D2"],"range":["#ee2222","#2f3d94"]},"legend":{"orient":"none","title":null,"legendX":249,"legendY":20}}}},
  {"data":{"name":"pts"},"transform":[{"filter":"datum.p=='c'"}],"mark":{"type":"errorbar","thickness":1.2,"ticks":{"size":6}},"encoding":{"yError":{"field":"e"},"color":{"field":"s","type":"nominal","scale":{"domain":["D1","D2"],"range":["#ee2222","#2f3d94"]},"legend":null}}}
 ]},
{"width":292,"height":149,"title":"(f)",
 "encoding":{"x":{"field":"x","type":"quantitative","scale":{"domain":[0,3.97],"nice":false,"zero":false},"axis":{"values":[0,1,2,3],"labelExpr":"datum.value==0?'':datum.value==1?'π':datum.value+'π'","labelFontSize":17,"labelColor":"#111","labelPadding":2,"title":null}},
  "y":{"field":"y","type":"quantitative","scale":{"domain":[0,650],"nice":false},"axis":{"values":[0,100,200,300,400,500,600],"title":null}}},
 "layer":[
  {"data":{"name":"fit"},"transform":[{"filter":"datum.p=='f'"},{"fold":["F1","F2"],"as":["s","y"]}],"mark":{"type":"line","interpolate":"monotone","strokeWidth":1.3},"encoding":{"stroke":{"field":"s","type":"nominal","scale":{"domain":["F1","F2"],"range":["#ee2222","#2f3d94"]},"legend":null}}},
  {"data":{"name":"pts"},"transform":[{"filter":"datum.p=='f'"}],"mark":{"type":"point","shape":"triangle-up","filled":true,"size":30,"opacity":1},"encoding":{"color":{"field":"s","type":"nominal","scale":{"domain":["D1","D2"],"range":["#ee2222","#2f3d94"]},"legend":{"orient":"none","title":null,"legendX":191,"legendY":20,"labelExpr":"datum.label=='D1'?'D1 V=0.940':'D2 V=0.988'"}}}},
  {"data":{"name":"pts"},"transform":[{"filter":"datum.p=='f'"}],"mark":{"type":"errorbar","thickness":1.2,"ticks":{"size":6}},"encoding":{"yError":{"field":"e"},"color":{"field":"s","type":"nominal","scale":{"domain":["D1","D2"],"range":["#ee2222","#2f3d94"]},"legend":null}}}
 ]},
{"width":293,"height":120,"view":{"stroke":null},
 "data":{"name":"cap"},"transform":[{"filter":"datum.col==0"}],
 "encoding":{"x":{"field":"c","type":"quantitative","scale":{"domain":[0,1]},"axis":null},
  "y":{"field":"r","type":"quantitative","scale":{"domain":[-2.95,2.5],"reverse":true},"axis":null}},
 "layer":[
  {"mark":{"type":"text","align":"left","baseline":"middle","fontSize":18,"font":"Liberation Serif, Times New Roman, DejaVu Serif, serif","color":"#e8262b","dx":-5},"encoding":{"text":{"field":"l"}}},
  {"mark":{"type":"text","align":"left","baseline":"middle","fontSize":18,"font":"Liberation Serif, Times New Roman, DejaVu Serif, serif","color":"#111","dx":25},"encoding":{"text":{"field":"t"}}}
 ]},
{"width":292,"height":120,"view":{"stroke":null},
 "data":{"name":"cap"},"transform":[{"filter":"datum.col==1"}],
 "encoding":{"x":{"field":"c","type":"quantitative","scale":{"domain":[0,1]},"axis":null},
  "y":{"field":"r","type":"quantitative","scale":{"domain":[-2.95,2.5],"reverse":true},"axis":null}},
 "layer":[
  {"mark":{"type":"text","align":"left","baseline":"middle","fontSize":18,"font":"Liberation Serif, Times New Roman, DejaVu Serif, serif","color":"#e8262b","dx":3,"clip":true},"encoding":{"text":{"field":"l"}}},
  {"mark":{"type":"text","align":"left","baseline":"middle","fontSize":18,"font":"Liberation Serif, Times New Roman, DejaVu Serif, serif","color":"#111","dx":29,"clip":true},"encoding":{"text":{"field":"t"}}}
 ]}
]
}
